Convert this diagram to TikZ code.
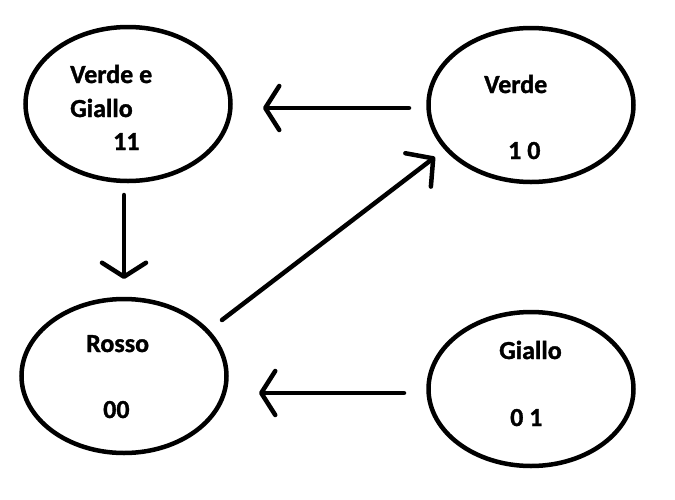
\documentclass[tikz,border=0pt]{standalone}
\usepackage{fontspec}
\setmainfont{Carlito}[BoldFeatures={FakeBold=1.2}]
\usetikzlibrary{arrows.meta,shapes.geometric}
\begin{document}
\begin{tikzpicture}[x=1pt,y=-1pt,
  state/.style={draw,line width=4.5pt,ellipse,minimum width=205pt,minimum height=154pt,inner sep=0pt},
  lbl/.style={anchor=base west,inner sep=0pt,font=\fontsize{26}{30}\selectfont\bfseries},
  conn/.style={line width=4.5pt,line cap=round,line join=round},
  tipA/.style={-{Straight Barb[length=14pt,width=44pt,line cap=round,line join=round]}},
  tipB/.style={-{Straight Barb[length=19pt,width=42pt,line cap=round,line join=round]}}]
\useasboundingbox (0,0) rectangle (675,499);
% states
\node[state] (tl) at (128,104) {};
\node[state] (tr) at (531,105) {};
\node[state] (bl) at (124,376) {};
\node[state] (br) at (531,389) {};
% texts
\node[lbl] (tlA) at (70,83) {Verde e};
\node[lbl] (tlB) at (70,117) {Giallo};
\node[lbl] (tlC) at (113,150) {11};
\node[lbl] (trA) at (484,93) {Verde};
\node[lbl] (trB) at (508,159) {1 0};
\node[lbl] (blA) at (86,352) {Rosso};
\node[lbl] (blB) at (103,418) {00};
\node[lbl] (brA) at (499,359) {Giallo};
\node[lbl] (brB) at (510,426) {0 1};
% connector ends
\coordinate (a1) at (409,108); \coordinate (a2) at (263,108);
\coordinate (b1) at (124,195); \coordinate (b2) at (124,279);
\coordinate (c1) at (222,320); \coordinate (c2) at (435,157);
\coordinate (d1) at (404,393); \coordinate (d2) at (259,393);
\draw[conn,tipA] (a1) -- (a2);
\draw[conn,tipA] (b1) -- (b2);
\draw[conn,tipB] (c1) -- (c2);
\draw[conn,tipA] (d1) -- (d2);
\end{tikzpicture}
\end{document}
